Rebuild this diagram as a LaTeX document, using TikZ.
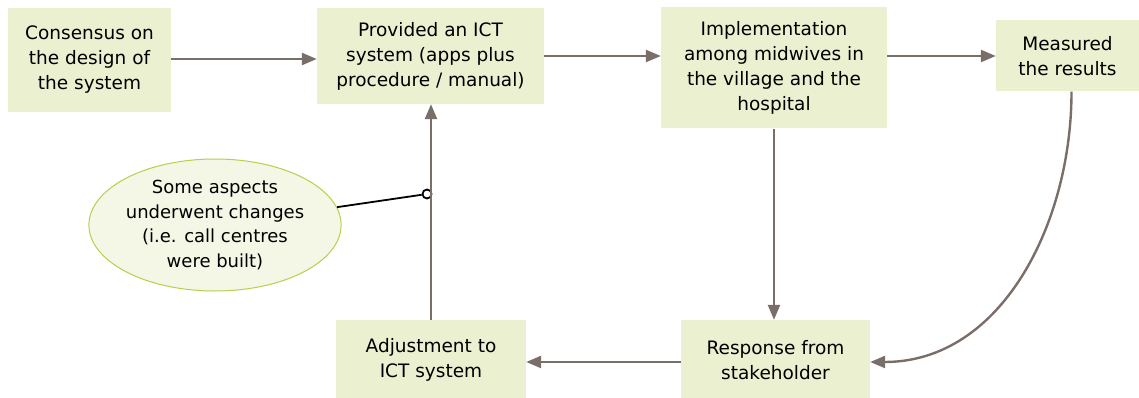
\documentclass[tikz,border=0pt]{standalone}
\usepackage{fontspec}
\setmainfont{DejaVu Sans}
\usepackage{tikz}
\usetikzlibrary{arrows.meta,shapes.geometric,calc}
\definecolor{boxgreen}{HTML}{EBF1D0}
\definecolor{notefill}{HTML}{F4F7E6}
\definecolor{noteline}{HTML}{B8CF4A}
\definecolor{arrowgray}{HTML}{7A6E69}
\tikzset{stage/.style={rectangle, fill=boxgreen, inner sep=0pt, align=center,
font=\fontsize{18.5}{25}\selectfont},
flow/.style={draw=arrowgray, line width=2.4pt, -{Triangle[length=15pt,width=12pt]}},
note/.style={ellipse, draw=noteline, line width=1pt, fill=notefill, inner sep=0pt,
align=center, font=\fontsize{18}{24.5}\selectfont}}

\begin{document}
\begin{tikzpicture}[x=1pt, y=-1pt]
        \useasboundingbox (0,0) rectangle (1139,398);
        \node[stage, minimum width=163, minimum height=104] (design) at (89.5, 60) {Consensus on\\the design of\\the system};
        \node[stage, minimum width=227, minimum height=96] (ict) at (430.5, 56) {Provided an ICT\\system (apps plus\\procedure / manual)};
        \node[stage, minimum width=226, minimum height=121] (impl) at (774, 68) {Implementation\\among midwives in\\the village and the\\hospital};
        \node[stage, minimum width=143, minimum height=71] (measure) at (1067.5, 56) {Measured\\the results};
        \node[stage, minimum width=189, minimum height=80] (response) at (775.5, 360) {Response from\\stakeholder};
        \node[stage, minimum width=190, minimum height=80] (adjust) at (431, 360) {Adjustment to\\ICT system};
        \node[note, minimum width=249, minimum height=132] (aspects) at (215, 225) {Some aspects\\underwent changes\\(i.e. call centres\\were built)};
        \node[circle, draw, line width=1.8pt, fill=white, inner sep=0pt, minimum size=9] (pin) at (427, 194) {};

        \draw[flow] (design.east |- 0,59) -- (ict.west |- 0,59);
        \draw[flow] (ict.east) -- (impl.west |- ict.east);
        \draw[flow] (impl.east |- ict.east) -- (measure.west |- ict.east);
        \draw[flow] (impl.south) -- (impl.south |- response.north);
        \draw[flow] ([xshift=4pt]measure.south) to[out=-90, in=0] ($(response.east)+(0,2)$);
        \draw[flow] ($(response.west)+(0,2)$) -- ($(adjust.east)+(0,2)$);
        \draw[flow] (adjust.north) -- (adjust.north |- ict.south);
        \draw[line width=1.8pt] (aspects) -- (pin);
    \end{tikzpicture}
\end{document}
